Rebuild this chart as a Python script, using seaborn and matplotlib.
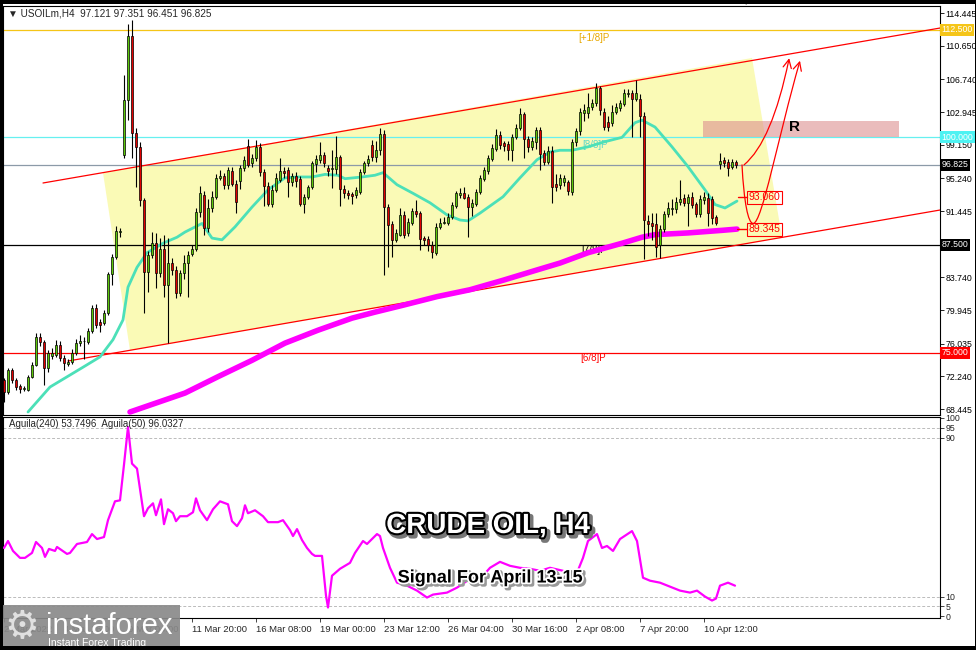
import matplotlib
matplotlib.use("Agg")
import matplotlib.pyplot as plt  # noqa: E402
import matplotlib.patheffects as pe  # noqa: E402
import matplotlib.transforms as mtrans  # noqa: E402
from matplotlib.patches import Polygon, Rectangle, FancyArrowPatch  # noqa: E402
from matplotlib.path import Path  # noqa: E402
import numpy as np  # noqa: E402
import pandas as pd  # noqa: E402
import seaborn as sns  # noqa: E402


# ---------------------------------------------------------------------------
# Candles (H4)
# ---------------------------------------------------------------------------
OPEN = [
    71.8, 70.4, 73.0, 71.8, 71.1, 70.8, 70.7, 72.2, 73.6, 76.8,
    76.2, 73.2, 74.6, 74.7, 75.9, 74.4, 73.7, 73.9, 75.0, 76.1,
    76.3, 76.2, 77.5, 80.2, 78.5, 78.4, 79.6, 84.1, 86.1, 89.0,
    97.9, 104.3, 111.8, 100.5, 98.9, 92.7, 84.4, 86.3, 87.7, 84.2,
    87.0, 82.9, 85.4, 84.6, 81.9, 84.2, 85.4, 86.5, 87.0, 91.3,
    93.3, 89.5, 91.8, 93.1, 95.3, 95.5, 94.5, 96.1, 94.6, 94.9,
    96.4, 99.0, 97.0, 97.6, 98.9, 96.0, 94.4, 92.3, 93.9, 95.1,
    96.1, 96.2, 94.8, 95.5, 95.2, 92.3, 93.1, 94.2, 96.9, 97.4,
    98.0, 96.4, 96.3, 96.3, 97.7, 94.0, 93.5, 93.4, 93.3, 93.7,
    96.0, 97.0, 99.1, 97.7, 98.5, 100.4, 91.9, 89.9, 88.1, 88.7,
    91.0, 88.9, 90.1, 91.5, 91.2, 88.3, 88.2, 87.5, 86.6, 89.6,
    90.1, 90.1, 90.8, 92.0, 93.3, 93.5, 93.1, 91.9, 92.3, 93.7,
    95.2, 96.1, 97.5, 98.7, 100.3, 99.3, 99.2, 98.5, 100.0, 101.1,
    102.7, 99.8, 98.9, 99.5, 100.9, 98.2, 97.1, 98.4, 94.6, 94.5,
    94.8, 94.8, 93.7, 99.5, 100.7, 102.8, 102.8, 103.5, 104.0, 105.7,
    103.0, 101.8, 101.7, 103.0, 103.4, 103.9, 105.0, 105.2, 104.5, 104.5,
    102.5, 90.3, 90.1, 89.9, 87.5, 89.4, 91.1, 91.7, 91.7, 92.5,
    93.0, 92.4, 93.1, 92.3, 91.1, 92.7, 93.0, 92.8, 90.8, 96.9,
    97.4, 97.1, 96.6, 97.121,
]
HIGH = [
    72.0, 73.2, 73.2, 72.0, 71.3, 71.1, 72.4, 73.9, 77.3, 77.3,
    76.5, 75.3, 75.5, 76.5, 76.3, 74.7, 74.2, 75.4, 76.6, 77.0,
    76.8, 77.9, 80.5, 80.6, 78.9, 79.9, 84.4, 86.4, 89.7, 89.5,
    107.2, 113.2, 113.6, 101.1, 99.5, 93.0, 86.8, 89.0, 88.9, 88.3,
    88.7, 88.3, 86.0, 85.0, 84.6, 86.3, 86.8, 87.5, 91.8, 94.3,
    93.8, 92.8, 93.8, 95.8, 96.2, 95.9, 96.6, 96.5, 95.0, 96.8,
    97.8, 99.8, 98.1, 99.7, 99.3, 96.3, 94.8, 94.5, 95.9, 97.6,
    96.6, 96.5, 95.9, 96.0, 95.5, 93.4, 94.5, 97.3, 97.9, 99.5,
    98.3, 96.8, 98.5, 100.2, 98.0, 94.5, 93.9, 93.6, 94.2, 96.3,
    97.3, 97.9, 99.7, 99.6, 101.1, 100.8, 92.3, 90.3, 89.3, 91.8,
    91.5, 90.6, 91.8, 92.7, 91.5, 88.6, 88.6, 88.0, 90.1, 90.6,
    90.7, 91.2, 92.5, 93.8, 94.1, 94.2, 93.4, 92.8, 94.0, 95.6,
    96.5, 98.0, 99.2, 101.0, 100.7, 99.6, 99.6, 100.4, 101.5, 103.4,
    103.0, 100.2, 100.0, 101.2, 101.2, 98.5, 99.0, 99.0, 95.8, 95.7,
    95.6, 95.1, 99.8, 101.1, 103.4, 103.9, 105.1, 104.5, 106.3, 106.0,
    103.4, 102.5, 103.8, 104.0, 104.3, 105.6, 105.6, 105.5, 106.7, 105.0,
    103.0, 91.0, 91.2, 91.2, 89.8, 91.5, 92.5, 92.8, 93.1, 95.0,
    93.4, 93.4, 93.6, 92.5, 93.3, 93.6, 93.5, 93.2, 91.0, 98.2,
    97.7, 97.5, 97.5, 97.351,
]
LOW = [
    69.3, 70.2, 71.5, 70.6, 70.3, 70.5, 70.5, 72.0, 73.4, 75.8,
    71.2, 72.8, 74.3, 74.5, 74.0, 73.0, 73.4, 73.7, 74.7, 75.8,
    74.3, 76.0, 77.3, 77.9, 77.4, 78.2, 79.4, 82.8, 85.9, 88.4,
    97.6, 102.0, 97.6, 94.2, 92.0, 79.6, 82.0, 86.0, 82.5, 83.8,
    81.5, 76.1, 84.0, 81.3, 81.6, 83.5, 81.5, 86.2, 86.8, 90.8,
    88.7, 89.0, 91.3, 92.8, 95.0, 94.0, 94.0, 94.3, 91.2, 94.0,
    96.1, 96.5, 96.6, 97.3, 95.5, 92.0, 92.0, 91.9, 93.6, 94.8,
    95.3, 93.1, 94.3, 94.2, 92.0, 91.2, 92.8, 94.0, 96.0, 97.0,
    96.5, 95.5, 94.1, 95.8, 92.0, 93.0, 92.8, 92.3, 93.0, 93.4,
    95.7, 96.7, 97.3, 97.1, 97.9, 84.0, 84.9, 86.1, 87.8, 88.5,
    88.3, 88.5, 89.8, 90.8, 86.9, 87.5, 86.8, 86.0, 86.3, 89.4,
    89.9, 89.8, 90.5, 91.8, 93.0, 92.8, 88.4, 90.9, 92.0, 93.4,
    94.9, 95.8, 97.2, 98.4, 98.6, 98.4, 97.4, 97.3, 99.8, 100.8,
    97.6, 98.3, 98.5, 98.6, 96.2, 96.8, 96.9, 92.4, 93.8, 94.0,
    94.3, 93.3, 93.3, 99.0, 100.3, 101.9, 102.3, 103.2, 103.6, 102.6,
    100.8, 100.7, 101.3, 102.7, 103.1, 103.6, 104.7, 100.0, 104.2, 100.0,
    85.9, 88.5, 88.1, 86.1, 86.0, 89.0, 90.8, 91.0, 91.2, 92.2,
    92.0, 89.7, 91.8, 90.8, 90.7, 92.3, 89.7, 89.9, 89.8, 96.3,
    96.6, 95.5, 96.3, 96.451,
]
CLOSE = [
    70.4, 73.0, 71.8, 71.0, 70.8, 70.9, 72.2, 73.6, 76.8, 76.2,
    73.2, 75.0, 75.0, 75.9, 74.4, 73.8, 73.9, 75.0, 76.1, 76.3,
    76.4, 77.5, 80.2, 78.2, 78.2, 79.6, 84.1, 86.1, 89.1, 89.1,
    104.3, 111.8, 100.5, 98.9, 92.7, 84.4, 86.3, 87.7, 84.2, 87.0,
    82.9, 85.4, 84.6, 81.9, 84.2, 85.4, 86.3, 87.0, 91.3, 93.5,
    89.5, 91.8, 93.1, 95.3, 95.5, 94.5, 96.2, 94.6, 92.5, 96.4,
    97.4, 96.8, 97.6, 98.9, 96.0, 94.4, 92.3, 93.9, 95.3, 96.1,
    95.9, 94.8, 95.5, 94.9, 92.3, 93.1, 94.2, 97.0, 97.5, 98.0,
    97.0, 96.1, 96.4, 97.7, 94.0, 93.5, 93.3, 93.2, 93.9, 96.0,
    97.0, 97.5, 97.7, 98.5, 100.4, 91.9, 89.8, 88.1, 88.9, 91.0,
    88.7, 90.2, 91.5, 91.1, 88.2, 88.1, 87.5, 86.7, 89.6, 90.1,
    90.2, 90.8, 92.1, 93.5, 93.5, 93.0, 91.9, 92.4, 93.7, 95.3,
    96.2, 97.6, 98.8, 100.3, 99.1, 99.0, 98.5, 100.0, 101.1, 102.7,
    99.8, 98.9, 99.6, 100.9, 98.1, 97.1, 98.4, 94.2, 94.2, 95.3,
    95.3, 93.8, 99.5, 100.7, 103.0, 103.2, 103.5, 104.0, 105.7, 103.2,
    101.2, 101.2, 103.0, 103.5, 104.0, 105.2, 105.2, 104.5, 105.2, 102.5,
    90.4, 89.9, 89.7, 87.3, 89.4, 91.1, 91.8, 91.8, 92.5, 92.8,
    92.4, 93.1, 92.1, 91.1, 92.8, 93.1, 91.2, 90.6, 90.1, 97.3,
    97.0, 96.4, 97.1, 96.825,
]

# fast moving average (cyan), read at bar positions
CYAN_IDX = [6, 11.5, 19.75, 24, 27.25, 29.75, 31, 33.25, 35.75, 39.75,
            43.25, 45.25, 49.5, 52, 54.5, 57.75, 62, 66, 70.25, 73.5,
            77, 80.25, 83.5, 85.25, 89.5, 92.75, 94.75, 98.25, 102.25, 106.5,
            110.75, 114, 116, 119, 124.75, 129, 133.25, 136.5, 139, 142,
            146, 150.25, 154.5, 157.75, 159.5, 162.75, 167, 171, 175.25, 177.75,
            180.25, 183.25]
CYAN_VAL = [68.1, 71.0, 73.3, 74.5, 76.5, 78.8, 82.6, 84.9, 86.6, 87.7,
            88.4, 89.0, 90.0, 88.3, 88.1, 89.6, 91.9, 93.9, 95.3, 95.4,
            95.4, 95.7, 95.6, 95.2, 95.4, 95.6, 95.9, 94.5, 93.5, 92.4,
            91.0, 90.4, 90.3, 91.2, 93.1, 95.3, 97.4, 98.3, 98.5, 98.5,
            98.9, 99.5, 100.0, 101.7, 102.0, 101.2, 98.9, 96.6, 93.9, 92.2,
            91.8, 92.6]

# slow moving average (magenta)
MAG_IDX = [31.5, 45.25, 53.5, 62, 70.25, 78.5, 87, 92.75, 99.75, 108.25,
           116.5, 124.75, 133.25, 139, 146, 154.5, 159.5, 162.75, 171, 179.5,
           183.25]
MAG_VAL = [68.1, 70.3, 72.2, 74.1, 76.1, 77.6, 79.0, 79.7, 80.5, 81.5,
           82.3, 83.4, 84.6, 85.4, 86.6, 87.7, 88.4, 88.7, 88.9, 89.2,
           89.345]

# Aguila oscillator (lower panel)
AG_IDX = [0, 1, 2.25, 4, 5.25, 7, 8, 9.5, 10.25, 11.25,
          12.75, 13.25, 15.75, 16.5, 18.25, 20.75, 22, 23.25, 25, 26,
          27.75, 29, 30, 31, 32, 33.25, 35, 36, 37.25, 38,
          39.25, 40, 41, 42.25, 43, 44, 45.75, 47.25, 48, 49,
          50.75, 52.25, 54, 56, 57, 58.25, 59.5, 60.25, 61, 62.75,
          64.75, 66, 68.5, 69.75, 71.5, 72.25, 73.25, 74.5, 75.75, 77,
          77.75, 79.5, 80.5, 81, 82, 84, 86.5, 87.75, 89.75, 90.75,
          92, 93.25, 94, 94.75, 96.5, 98.25, 100.75, 103.25, 105.75, 107.25,
          110.75, 113.25, 114.75, 116.5, 119.75, 121.5, 124, 126.5, 129, 131.5,
          134, 136.5, 139.75, 141.5, 143.25, 144.75, 146, 148.25, 149.5, 150.75,
          152.25, 154, 157, 158.25, 159.75, 161.5, 164, 166.5, 169, 171.5,
          173.25, 175.25, 177, 178, 179, 181, 182.75]
AG_VAL = [34.5, 38, 33, 29.5, 29.5, 32, 37.5, 34.5, 30, 34,
          33, 35, 31.5, 32, 36.5, 37.5, 41.5, 39, 40, 48.5,
          58, 58.5, 76.5, 95.5, 77, 74.5, 50.5, 54.5, 57, 51,
          59, 46.5, 54, 52, 48, 50.5, 50.5, 52.5, 59.5, 53.5,
          48.5, 54, 58, 56.5, 48, 45.5, 49.5, 56, 52, 53.5,
          50.5, 47.5, 47.5, 48.5, 43.5, 40.5, 44, 38.5, 34.5, 31.5,
          30.5, 30.5, 10.5, 4.5, 20.5, 24, 27, 32, 38, 36.5,
          39, 41.5, 40.5, 34.5, 24.5, 17, 15.5, 13, 9.5, 11,
          12, 14.5, 16.5, 19, 20.5, 24.5, 27.5, 25.5, 24.5, 24,
          23, 24.5, 23, 18, 22, 29.5, 38, 41.5, 34.5, 35.5,
          33, 39, 43, 38, 19.5, 18, 17, 15, 13, 12,
          13, 10, 8, 9, 15.5, 17, 15.5]

X_TICK_IDX = [0, 15, 31, 47, 63, 79, 95, 111, 127, 143, 159, 175]
X_TICK_LAB = ["2 Mar 2022", "4 Mar 16:00", "9 Mar 04:00", "11 Mar 20:00",
              "16 Mar 08:00", "19 Mar 00:00", "23 Mar 12:00", "26 Mar 04:00",
              "30 Mar 16:00", "2 Apr 08:00", "7 Apr 20:00", "10 Apr 12:00"]
PRICE_TICKS = [114.445, 110.650, 106.740, 102.945, 99.150, 95.240,
               91.445, 83.740, 79.945, 76.035, 72.240, 68.445]
OSC_TICKS = [0, 5, 10, 90, 95, 100]

# horizontal levels and their right-axis boxes
LEVELS = [112.5, 100.0, 96.825, 87.5, 75.0]
LEVEL_COLORS = ["#F5C518", "#66F0F0", "#8C9AA8", "#000000", "#FF0000"]
LEVEL_BOX = ["#F5C518", "#4DF2F2", "#000000", "#000000", "#FF0000"]

# murrey labels: (text, bar, price, colour)
MURREY = [("[+1/8]P", 143.5, 111.55, "#E8A800"),
          ("[8/8]P", 144.5, 99.1, "#5ED8C8"),
          ("[7/8]P", 144.2, 86.9, "#000000"),
          ("[6/8]P", 144.0, 74.4, "#FF0000")]

# channel (trend lines) end points (bar, price)
CH_UPPER = [(9.75, 94.70), (234, 112.70)]
CH_LOWER = [(16, 74.02), (234, 91.56)]
CH_ZONE = [(24.75, 95.90), (187, 109.22), (194.5, 88.37), (31.5, 75.26)]

TARGETS = [93.060, 89.345]

GREEN = "#5CC80A"
RED = "#E00000"

# ---------------------------------------------------------------------------
sns.set_style("white")
plt.rcParams["font.family"] = ["Liberation Sans", "DejaVu Sans"]
plt.rcParams["axes.linewidth"] = 0.8

W, H = 976, 650
AXIS_FS = 6.3


def fx(px):
    return px / W


def fy(py):
    return 1 - py / H


fig = plt.figure(figsize=(W / 100, H / 100), dpi=100)
ax = fig.add_axes([fx(3), fy(415), fx(940) - fx(3), fy(6) - fy(415)])
axi = fig.add_axes([fx(3), fy(618), fx(940) - fx(3), fy(417) - fy(618)])

for a in (ax, axi):
    for s in a.spines.values():
        s.set_color("black")
        s.set_linewidth(0.8)
    a.set_facecolor("white")

# --- channel zone + lines
ax.add_patch(Polygon(CH_ZONE, closed=True, fc="#FAFAB6", ec="none", zorder=0.5))
ax.plot(*zip(*CH_UPPER), color="#FF0000", lw=0.9, zorder=2)
ax.plot(*zip(*CH_LOWER), color="#FF0000", lw=0.9, zorder=2)

# --- resistance zone
ax.add_patch(Rectangle((174.75, 100.1), 49, 1.8, fc="#DD9090", alpha=0.6,
                       ec="none", zorder=1.5))
ax.text(197.5, 101.2, "R", fontsize=11, fontweight="bold", color="black",
        ha="center", va="center", zorder=6)

# --- horizontal levels
for lvl, col in zip(LEVELS, LEVEL_COLORS):
    ax.axhline(lvl, color=col, lw=0.9, zorder=1)

for txt, bx, py, col in MURREY:
    ax.text(bx, py, txt, fontsize=7, color=col, ha="left", va="center", zorder=2)

# --- moving averages
ma_fast = pd.DataFrame({"bar": CYAN_IDX, "price": CYAN_VAL})
ma_slow = pd.DataFrame({"bar": MAG_IDX, "price": MAG_VAL})
sns.lineplot(data=ma_slow, x="bar", y="price", ax=ax, color="#FF00FF", lw=4,
             zorder=3)
sns.lineplot(data=ma_fast, x="bar", y="price", ax=ax, color="#4CE0B8", lw=2,
             zorder=3)

# --- candles
bars = pd.DataFrame({"o": OPEN, "h": HIGH, "l": LOW, "c": CLOSE})
bars["i"] = np.arange(len(bars))
up = bars["c"] >= bars["o"]
body_lo = bars[["o", "c"]].min(axis=1)
body_h = (bars["c"] - bars["o"]).abs().clip(lower=0.08)
ax.vlines(bars["i"], bars["l"], bars["h"], color="black", lw=0.8, zorder=4)
ax.bar(bars["i"], body_h, bottom=body_lo, width=0.72,
       color=np.where(up, GREEN, RED), edgecolor="black", linewidth=0.5,
       zorder=5)

# --- target labels
for tg, x0 in zip(TARGETS, [183.5, 183.3]):
    ax.plot([x0, 185.8], [tg, tg], color="#FF0000", lw=1, zorder=6)
    ax.text(186.2, tg, f"{tg:.3f}", fontsize=7.5, color="#FF0000", ha="left",
            va="center", zorder=7,
            bbox=dict(boxstyle="square,pad=0.15", fc="none", ec="#FF0000", lw=0.8))

# --- scenario arrows
u_path = Path([(184.5, 96.8), (185.0, 92.5), (186.0, 90.0), (187.3, 90.0),
               (189.5, 90.0), (193.5, 100.0), (199.0, 108.9)],
              [Path.MOVETO, Path.CURVE4, Path.CURVE4, Path.CURVE4,
               Path.CURVE4, Path.CURVE4, Path.CURVE4])
up_path = Path([(185.0, 96.8), (192.0, 99.5), (196.3, 109.2)],
               [Path.MOVETO, Path.CURVE3, Path.CURVE3])
for pth in (u_path, up_path):
    ax.add_patch(FancyArrowPatch(path=pth, arrowstyle="->,head_length=0.6,head_width=0.3",
                                 mutation_scale=10, color="#FF0000", lw=0.9,
                                 zorder=7))

# --- main axes cosmetics
ax.set_xlim(-0.25, 234)
ax.set_ylim(67.75, 115.26)
ax.yaxis.tick_right()
ax.set_yticks(PRICE_TICKS)
ax.set_yticklabels([f"{v:.3f}" for v in PRICE_TICKS])
ax.tick_params(axis="y", right=True, length=3, width=0.6, pad=1,
               labelsize=AXIS_FS, colors="black")
ax.set_xticks([])
ax.set_xlabel("")
ax.set_ylabel("")

trans = mtrans.blended_transform_factory(ax.transAxes, ax.transData)
for lvl, bg in zip(LEVELS, LEVEL_BOX):
    ax.text(1.0015, lvl, f"{lvl:.3f}", transform=trans, ha="left", va="center",
            fontsize=AXIS_FS, color="white", clip_on=False, zorder=10,
            bbox=dict(boxstyle="square,pad=0.18", fc=bg, ec="none"))

# --- oscillator
osc = pd.DataFrame({"bar": AG_IDX, "value": AG_VAL})
for lv in (5, 10, 90, 95):
    axi.axhline(lv, color="#BBBBBB", lw=0.7, ls=(0, (3, 2)), zorder=1)
sns.lineplot(data=osc, x="bar", y="value", ax=axi, color="#FF00FF", lw=1.6,
             zorder=3)
axi.set_xlim(-0.25, 234)
axi.set_ylim(-0.8, 100.5)
axi.yaxis.tick_right()
axi.set_yticks(OSC_TICKS)
axi.set_yticklabels([str(v) for v in OSC_TICKS])
axi.tick_params(axis="y", right=True, length=3, width=0.6, pad=1,
                labelsize=AXIS_FS)
axi.set_xticks(X_TICK_IDX)
axi.set_xticklabels(X_TICK_LAB)
axi.tick_params(axis="x", bottom=True, length=3, width=0.6, pad=2,
                labelsize=6.8)
for lbl in axi.get_xticklabels():
    lbl.set_ha("left")
axi.set_xlabel("")
axi.set_ylabel("")
axi.text(0.006, 0.965, "Aguila(240) 53.7496  Aguila(50) 96.0327",
         transform=axi.transAxes, fontsize=7, ha="left", va="center")

# --- headers / overlays
fig.text(fx(8), fy(13), "\u25BC USOILm,H4  97.121 97.351 96.451 96.825",
         fontsize=7.2, ha="left", va="center")
fig.text(fx(745), fy(3), "\u25BC", fontsize=6, color="#555555", ha="center",
         va="center")

fig.text(fx(488), fy(526), "CRUDE OIL, H4", fontsize=20, fontweight="bold",
         color="white", ha="center", va="center",
         path_effects=[pe.Stroke(linewidth=4, foreground="#777777", offset=(2, -2)),
                       pe.Stroke(linewidth=3, foreground="black"), pe.Normal()])
fig.text(fx(490), fy(578), "Signal For April 13-15", fontsize=13,
         fontweight="bold", color="black", ha="center", va="center",
         path_effects=[pe.Stroke(linewidth=3, foreground="#999999", offset=(1.5, -1.5)),
                       pe.Stroke(linewidth=2.5, foreground="white"), pe.Normal()])

# logo
fig.add_artist(Rectangle((0, fy(650)), fx(180), (650 - 605) / H,
                         transform=fig.transFigure, fc="#8A8A8A", ec="none",
                         alpha=0.92, zorder=20))
fig.text(fx(22), fy(627), "\u2699", fontsize=28, color="#E0E0E0", ha="center",
         va="center", zorder=21, family=["DejaVu Sans"])
fig.text(fx(46), fy(626), "instaforex", fontsize=21, color="white", ha="left",
         va="center", zorder=21)
fig.text(fx(48), fy(643), "Instant Forex Trading", fontsize=7.5, color="white",
         ha="left", va="center", zorder=21)

# outer frame: thick on top/left/bottom, thin on the right
for rx, ry, rw, rh in [(0, fy(4), 1, 4 / H), (0, 0, fx(3), 1),
                       (0, 0, 1, 4 / H), (fx(975), 0, fx(1), 1)]:
    fig.add_artist(Rectangle((rx, ry), rw, rh, transform=fig.transFigure,
                             fc="black", ec="none", zorder=30))

fig.savefig("out.png", dpi=100)
